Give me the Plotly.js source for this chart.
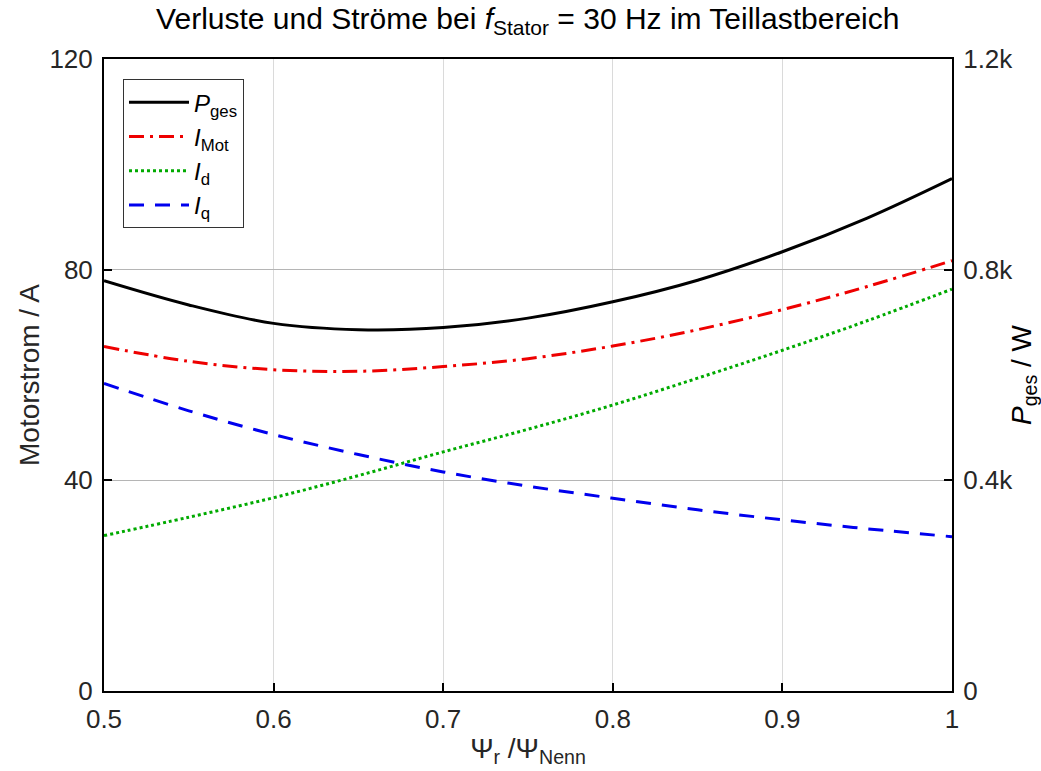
<!DOCTYPE html>
<html>
<head>
<meta charset="utf-8">
<script src="https://cdn.plot.ly/plotly-3.0.1.min.js"></script>
<style>html,body{margin:0;padding:0;background:#fff;}#chart{width:1041px;height:771px;}</style>
</head>
<body>
<div id="chart"></div>
<script>
const psi = [0.5, 0.55, 0.6, 0.65, 0.7, 0.75, 0.8, 0.85, 0.9, 0.95, 1.0];
const P_ges = [779, 733, 698, 686, 690, 708, 739, 780, 834, 898, 973];
const I_Mot = [65.4, 62.6, 61.0, 60.7, 61.6, 63.1, 65.5, 68.6, 72.4, 76.8, 81.7];
const I_d = [29.5, 33.0, 36.7, 40.9, 45.4, 49.7, 54.3, 59.4, 64.7, 70.3, 76.3];
const I_q = [58.4, 53.2, 48.7, 44.9, 41.6, 38.9, 36.6, 34.4, 32.5, 30.8, 29.3];
const leftTicks = [0, 40, 80, 120];
const rightTicks = [0, 400, 800, 1200];
const rightTickText = ['0', '0.4k', '0.8k', '1.2k'];
const xTicks = [0.5, 0.6, 0.7, 0.8, 0.9, 1];
const xTickText = ['0.5', '0.6', '0.7', '0.8', '0.9', '1'];

const F = 'Liberation Sans, Arial, sans-serif';
const traces = [
  {x: psi, y: P_ges, yaxis: 'y2', name: '<i>P</i><sub>ges</sub>', mode: 'lines',
   line: {color: '#000000', width: 3, shape: 'spline'}},
  {x: psi, y: I_Mot, name: '<i>I</i><sub>Mot</sub>', mode: 'lines',
   line: {color: '#ee0000', width: 3, dash: '15px,6px,3px,6px', shape: 'spline'}},
  {x: psi, y: I_d, name: '<i>I</i><sub>d</sub>', mode: 'lines',
   line: {color: '#00aa00', width: 3, dash: 'dot', shape: 'spline'}},
  {x: psi, y: I_q, name: '<i>I</i><sub>q</sub>', mode: 'lines',
   line: {color: '#0000ee', width: 3, dash: '15px,11px', shape: 'spline'}}
];
const layout = {
  width: 1041, height: 771,
  margin: {l: 104, r: 89, t: 59, b: 80},
  paper_bgcolor: '#ffffff', plot_bgcolor: '#ffffff',
  font: {family: F, color: '#262626', size: 26},
  showlegend: true,
  title: {text: 'Verluste und Ströme bei <i>f</i><sub>Stator</sub> = 30 Hz im Teillastbereich',
          font: {family: F, size: 30, color: '#000000'}, x: 0.507, xanchor: 'center', y: 0.99, yanchor: 'top'},
  xaxis: {range: [0.5, 1], tickvals: xTicks, ticktext: xTickText, showgrid: true, gridcolor: '#dadada', gridwidth: 1,
          zeroline: false, showline: true, linecolor: '#000000', linewidth: 2, mirror: true,
          ticks: 'inside', ticklen: 8, tickcolor: '#000000', tickwidth: 2, ticklabelstandoff: 4,
          tickfont: {family: F, size: 26, color: '#262626'},
          title: {text: 'Ψ<sub>r</sub> /Ψ<sub>Nenn</sub>', font: {family: F, size: 28, color: '#262626'}, standoff: 5}},
  yaxis: {range: [0, 120], tickvals: leftTicks, showgrid: true, gridcolor: '#b5b5b5', gridwidth: 1,
          zeroline: false, showline: true, linecolor: '#000000', linewidth: 2,
          ticks: 'inside', ticklen: 8, tickcolor: '#000000', tickwidth: 2, ticklabelstandoff: 4,
          tickfont: {family: F, size: 26, color: '#262626'},
          title: {text: 'Motorstrom / A', font: {family: F, size: 28, color: '#262626'}, standoff: 2}},
  yaxis2: {range: [0, 1200], overlaying: 'y', side: 'right', tickvals: rightTicks, ticktext: rightTickText,
          showgrid: false, zeroline: false, showline: true, linecolor: '#000000', linewidth: 2,
          ticks: 'inside', ticklen: 8, tickcolor: '#000000', tickwidth: 2, ticklabelstandoff: 4,
          tickfont: {family: F, size: 26, color: '#262626'},
          title: {text: '<i>P</i><sub>ges</sub> / W', font: {family: F, size: 28, color: '#000000'}, standoff: 3}},
  legend: {x: 0.0224, y: 0.968, xanchor: 'left', yanchor: 'top', bgcolor: '#ffffff',
           bordercolor: '#333333', borderwidth: 1, font: {family: F, size: 24, color: '#000000'},
           itemwidth: 60, tracegroupgap: 0}
};
Plotly.newPlot('chart', traces, layout, {displayModeBar: false, staticPlot: true});
</script>
</body>
</html>
